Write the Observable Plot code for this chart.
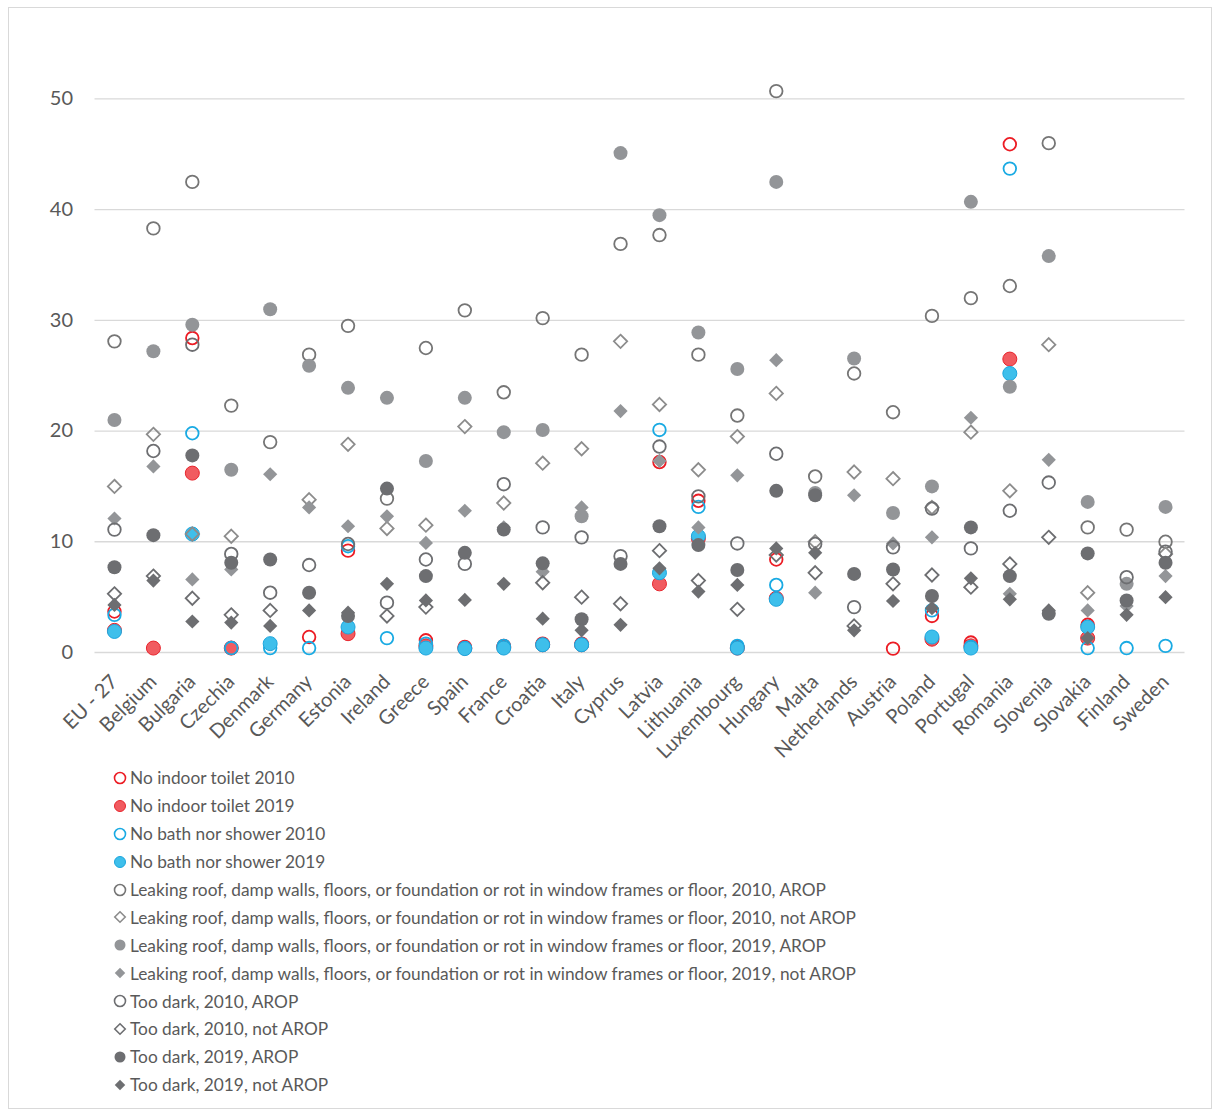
<!DOCTYPE html>
<html><head><meta charset="utf-8">
<script src="https://cdn.jsdelivr.net/npm/d3@7"></script>
<script src="https://cdn.jsdelivr.net/npm/@observablehq/plot@0.6"></script>
<style>
body{margin:0;background:#fff;font-family:Lato,"Open Sans",sans-serif;}
#frame{position:absolute;left:8px;top:7px;width:1204px;height:1102px;border:1px solid #d9d9d9;box-sizing:border-box;}
#chart{position:absolute;left:0;top:0;}
#legend{position:absolute;left:113px;top:764px;font-size:17.3px;color:#595959;}
.item{height:27.9px;display:flex;align-items:center;white-space:nowrap;}
.item svg{margin-right:3px;}
</style>
</head><body>
<div id="frame"></div>
<div id="chart"></div>
<div id="legend"></div>
<script>
const countries = ["EU - 27","Belgium","Bulgaria","Czechia","Denmark","Germany","Estonia","Ireland","Greece","Spain","France","Croatia","Italy","Cyprus","Latvia","Lithuania","Luxembourg","Hungary","Malta","Netherlands","Austria","Poland","Portugal","Romania","Slovenia","Slovakia","Finland","Sweden"];
const yTicks = [0,10,20,30,40,50];

//                  EU   BE   BG   CZ   DK   DE   EE   IE   EL   ES   FR   HR   IT   CY   LV   LT   LU   HU   MT   NL   AT   PL   PT   RO   SI   SK   FI   SE
const toilet2010 = [3.7,null,28.4,0.4,null,1.4,9.2,null,1.1,0.5,0.6,0.8,0.8,null,17.2,13.7,0.5,8.4,null,null,0.35,3.3,0.9,45.9,null,2.5,null,null];
const toilet2019 = [2.0,0.4,16.2,0.4,null,null,1.7,null,0.6,0.4,0.5,0.7,0.7,null,6.2,10.3,0.4,4.9,null,null,null,1.2,0.6,26.5,null,1.3,null,null];
const bath2010   = [3.4,null,19.8,0.4,0.4,0.4,9.6,1.3,0.8,0.4,0.6,0.7,0.7,null,20.1,13.15,0.6,6.1,null,null,null,3.8,0.5,43.7,null,0.4,0.4,0.6];
const bath2019   = [1.9,null,10.7,null,0.8,null,2.3,null,0.4,0.35,0.4,0.7,0.7,null,7.2,10.5,0.4,4.8,null,null,null,1.4,0.4,25.2,null,2.3,null,null];
const leak2010Arop    = [28.1,38.3,42.5,22.3,19.0,26.9,29.5,13.9,27.5,30.9,23.5,30.2,26.9,36.9,37.7,26.9,21.4,50.7,15.9,25.2,21.7,30.4,32.0,33.1,46.0,11.3,11.1,10.0];
const leak2010NotArop = [15.0,19.7,10.7,10.5,null,13.8,18.8,11.2,11.5,20.4,13.5,17.1,18.4,28.1,22.4,16.5,19.5,23.4,10.0,16.3,15.7,13.1,19.9,14.6,27.8,5.4,null,8.9];
const leak2019Arop    = [21.0,27.2,29.6,16.5,31.0,25.9,23.9,23.0,17.3,23.0,19.9,20.1,12.3,45.1,39.5,28.9,25.6,42.5,14.4,26.55,12.6,15.0,40.7,24.0,35.8,13.6,6.2,13.15];
const leak2019NotArop = [12.1,16.8,6.6,7.5,16.1,13.1,11.4,12.3,9.9,12.8,11.3,7.3,13.1,21.8,17.3,11.3,16.0,26.4,5.4,14.2,9.85,10.4,21.2,5.3,17.4,3.8,4.2,6.9];
const dark2010Arop    = [11.1,18.2,27.8,8.9,5.4,7.9,9.8,4.5,8.4,8.0,15.2,11.3,10.4,8.7,18.6,14.1,9.85,17.95,9.8,4.1,9.5,13.0,9.4,12.8,15.35,null,6.8,9.1];
const dark2010NotArop = [5.3,6.9,4.9,3.4,3.8,null,null,3.3,4.1,null,null,6.3,5.0,4.4,9.2,6.5,3.9,8.8,7.2,2.4,6.2,7.0,5.9,8.0,10.4,null,null,null];
const dark2019Arop    = [7.7,10.6,17.8,8.1,8.4,5.4,3.3,14.8,6.9,9.0,11.1,8.05,3.0,8.0,11.4,9.7,7.45,14.6,14.2,7.1,7.5,5.1,11.3,6.9,3.5,8.95,4.7,8.1];
const dark2019NotArop = [4.3,6.5,2.8,2.7,2.4,3.8,3.6,6.2,4.7,4.75,6.2,3.05,2.0,2.5,7.6,5.5,6.1,9.4,9.0,2.0,4.65,4.0,6.7,4.8,3.8,1.3,3.4,5.0];

const LEAK = "Leaking roof, damp walls, floors, or foundation or rot in window frames or floor";
const series = [
  {name:"No indoor toilet 2010", values:toilet2010, symbol:"circle", fill:"none", stroke:"#ec1c24"},
  {name:"No indoor toilet 2019", values:toilet2019, symbol:"circle", fill:"#f15b60", stroke:"#e8252d"},
  {name:"No bath nor shower 2010", values:bath2010, symbol:"circle", fill:"none", stroke:"#19aae3"},
  {name:"No bath nor shower 2019", values:bath2019, symbol:"circle", fill:"#3ebfeb", stroke:"#1ba5dd"},
  {name:LEAK+", 2010, AROP", values:leak2010Arop, symbol:"circle", fill:"none", stroke:"#757575"},
  {name:LEAK+", 2010, not AROP", values:leak2010NotArop, symbol:"diamond2", fill:"none", stroke:"#8c8c8c"},
  {name:LEAK+", 2019, AROP", values:leak2019Arop, symbol:"circle", fill:"#939598", stroke:"none"},
  {name:LEAK+", 2019, not AROP", values:leak2019NotArop, symbol:"diamond2", fill:"#939598", stroke:"none"},
  {name:"Too dark, 2010, AROP", values:dark2010Arop, symbol:"circle", fill:"none", stroke:"#6d6e71"},
  {name:"Too dark, 2010, not AROP", values:dark2010NotArop, symbol:"diamond2", fill:"none", stroke:"#6d6e71"},
  {name:"Too dark, 2019, AROP", values:dark2019Arop, symbol:"circle", fill:"#6d6e71", stroke:"none"},
  {name:"Too dark, 2019, not AROP", values:dark2019NotArop, symbol:"diamond2", fill:"#6d6e71", stroke:"none"}
];

const dotMarks = series.map(s => {
  const data = countries.map((c,i) => ({country:c, value:s.values[i]})).filter(d => d.value != null);
  const isDiamond = s.symbol === "diamond2";
  const open = s.fill === "none";
  return Plot.dot(data, {
    x:"country", y:"value", symbol: s.symbol,
    r: isDiamond ? (open ? 6.0 : 6.4) : (open ? 6.3 : 7),
    fill: s.fill, stroke: s.stroke, strokeWidth: open ? 1.8 : 1
  });
});

const W = 1212, H = 770;
const chart = Plot.plot({
  width: W, height: H,
  marginLeft: 94.5, marginRight: 27.5, marginTop: 43, marginBottom: H - 652,
  style: {fontFamily: "Lato, 'Open Sans', sans-serif", color: "#595959", background: "transparent"},
  x: {type: "point", domain: countries, padding: 0.5, round: false},
  y: {domain: [0, 55]},
  marks: [
    Plot.ruleY(yTicks, {stroke: "#d9d9d9", strokeWidth: 1.3}),
    Plot.axisY({ticks: yTicks, tickSize: 0, tickPadding: 22, fontSize: 20, label: null, tickFormat: d => String(d)}),
    Plot.axisX({tickSize: 0, tickPadding: 26, tickRotate: -45, fontSize: 20, label: null}),
    ...dotMarks
  ]
});
document.getElementById("chart").appendChild(chart);

// legend
const legend = document.getElementById("legend");
for (const s of series) {
  const row = document.createElement("div");
  row.className = "item";
  const sym = s.symbol === "diamond2" ? d3.symbol(d3.symbolDiamond2, 70)() : d3.symbol(d3.symbolCircle, 95)();
  const open = s.fill === "none";
  row.innerHTML = `<svg width="14" height="14" viewBox="-7 -7 14 14"><path d="${sym}" fill="${s.fill}" stroke="${s.stroke}" stroke-width="${open ? 1.6 : 1}"/></svg><span>${s.name}</span>`;
  legend.appendChild(row);
}
</script>
</body></html>
